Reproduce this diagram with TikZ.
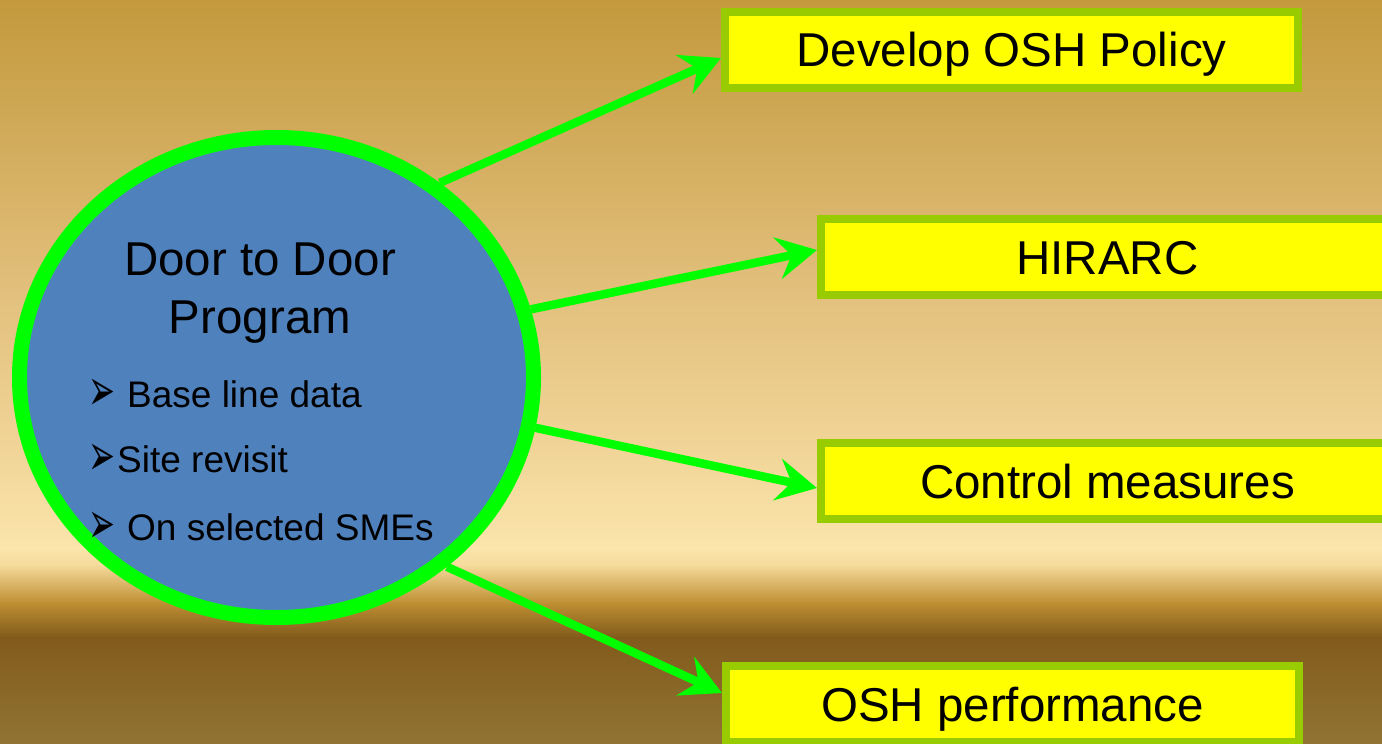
\documentclass[tikz,border=0pt]{standalone}
\usepackage{fontspec}
\usepackage{graphicx}
\setmainfont{Liberation Sans}
\newfontfamily\symfont{DejaVu Sans}
\usetikzlibrary{shapes.geometric,arrows.meta,calc}
\definecolor{bgA}{RGB}{195,153,60}
\definecolor{bgB}{RGB}{211,173,94}
\definecolor{bgC}{RGB}{227,193,126}
\definecolor{bgD}{RGB}{241,213,152}
\definecolor{bgE}{RGB}{251,229,171}
\definecolor{bgF}{RGB}{245,218,155}
\definecolor{bgG}{RGB}{190,142,50}
\definecolor{bgH}{RGB}{130,91,28}
\definecolor{bgI}{RGB}{145,116,52}
\definecolor{arrowgreen}{RGB}{0,255,0}
\definecolor{boxborder}{RGB}{153,204,0}
\definecolor{boxfill}{RGB}{255,255,0}
\definecolor{circblue}{RGB}{79,129,189}
\newcommand{\bulletglyph}{\scalebox{0.7}[1.28]{➢}}
\begin{document}
\begin{tikzpicture}[x=1pt,y=-1pt,
  band/.style={draw=none},
  box/.style={draw=boxborder, fill=boxfill, line width=8pt, minimum width=573pt,
    minimum height=76pt, inner sep=0pt, text height=34pt, text depth=0pt,
    font=\fontsize{47.5}{57}\selectfont},
  bigtext/.style={inner sep=0pt, anchor=base, font=\fontsize{47.5}{57}\selectfont},
  bullet/.style={inner sep=0pt, anchor=base west, font=\symfont\fontsize{46}{50}\selectfont},
  itemtext/.style={inner sep=0pt, anchor=base west, font=\fontsize{37}{44}\selectfont},
  conn/.style={draw=arrowgreen, line width=8.5pt,
    -{Stealth[length=40pt,width=42pt,inset=14pt]}}]
\useasboundingbox (0,0) rectangle (1382,744);
\clip (0,0) rectangle (1382,744);
% background gradient
\fill[band, top color=bgA, bottom color=bgB] (0,-1) rectangle (1382,150.5);
\fill[band, top color=bgB, bottom color=bgC] (0,150) rectangle (1382,300.5);
\fill[band, top color=bgC, bottom color=bgD] (0,300) rectangle (1382,450.5);
\fill[band, top color=bgD, bottom color=bgE] (0,450) rectangle (1382,548.5);
\fill[band, top color=bgE, bottom color=bgF] (0,548) rectangle (1382,565.5);
\fill[band, top color=bgF, bottom color=bgG] (0,565) rectangle (1382,603.5);
\fill[band, top color=bgG, bottom color=bgH] (0,603) rectangle (1382,637.5);
\fill[band, top color=bgH, bottom color=bgI] (0,637) rectangle (1382,745);
% circle
\node[ellipse, draw=arrowgreen, fill=circblue, line width=15pt,
  minimum width=514pt, minimum height=480pt, inner sep=0pt] (circ) at (276.5,377.5) {};
\node[bigtext] (t1) at (260,275) {Door to Door};
\node[bigtext] (t2) at (260,333) {Program};
\node[bullet] (u1) at (88,410) {\bulletglyph};
\node[bullet] (u2) at (88,475) {\bulletglyph};
\node[bullet] (u3) at (88,543) {\bulletglyph};
\node[itemtext] (i1) at (127,407) {Base line data};
\node[itemtext] (i2) at (117,472) {Site revisit};
\node[itemtext] (i3) at (127,540) {On selected SMEs};
% boxes
\node[box] (b1) at (1011.5,49.5) {Develop OSH Policy};
\node[box] (b2) at (1107.5,257) {HIRARC};
\node[box] (b3) at (1107.5,481) {Control measures};
\node[box] (b4) at (1012.5,704) {OSH performance};
% connectors
\draw[conn] (circ.50) -- ($(b1.west)+(0,8.5)$);
\draw[conn] (circ.15) -- ($(b2.west)+(0,-7)$);
\draw[conn] (circ.-11) -- ($(b3.west)+(0,7)$);
\draw[conn] (circ.-48.5) -- ($(b4.west)+(0,-11)$);
\end{tikzpicture}
\end{document}
